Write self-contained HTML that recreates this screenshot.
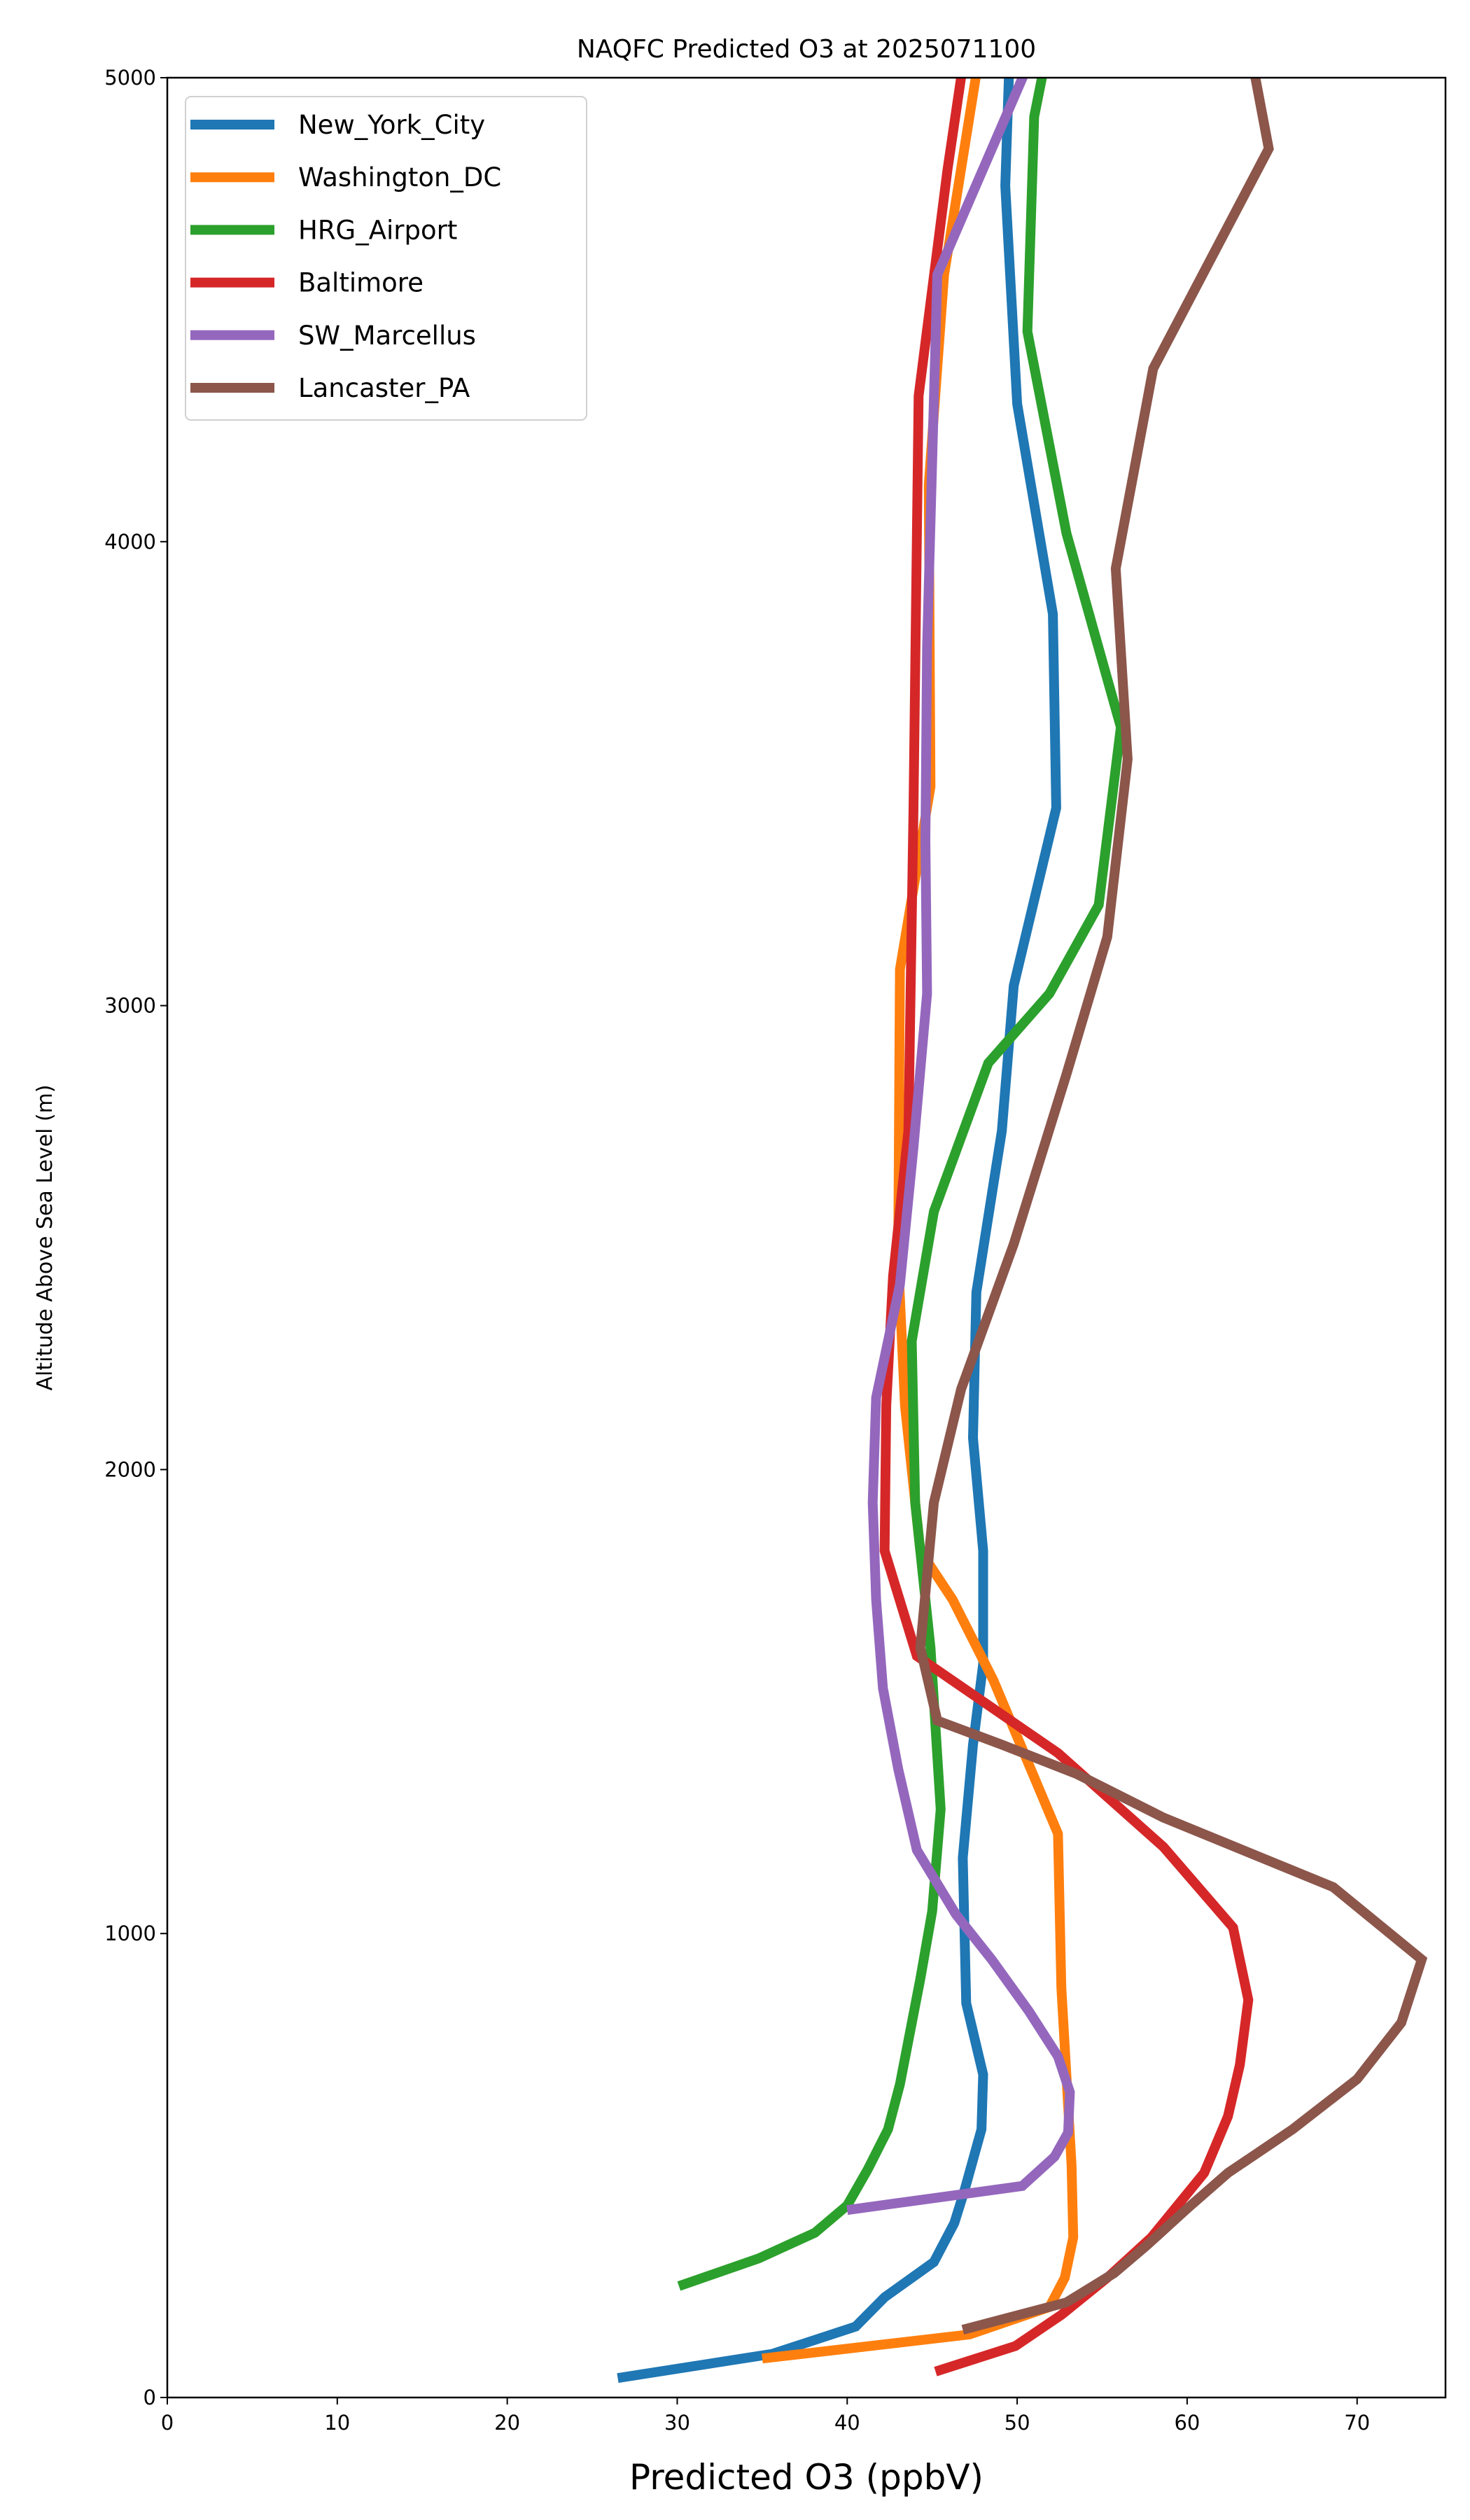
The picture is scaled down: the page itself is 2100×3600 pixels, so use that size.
<!DOCTYPE html>
<html><head><meta charset="utf-8"><style>
html,body{margin:0;padding:0;background:#fff;}
svg{display:block;font-family:"DejaVu Sans","Liberation Sans",sans-serif;}
</style></head><body>
<svg id="chart" width="2100" height="3600" viewBox="0 0 2100 3600" xmlns="http://www.w3.org/2000/svg">
<rect width="2100" height="3600" fill="#fff"/>
<defs><clipPath id="plotclip"><rect x="239" y="111" width="1826" height="3314"/></clipPath></defs>
<text x="1152" y="82" font-size="36" text-anchor="middle">NAQFC Predicted O3 at 2025071100</text>
<g id="xticks"></g>
<g id="yticks"></g>
<g id="series" clip-path="url(#plotclip)"></g>
<rect x="239" y="111" width="1826" height="3314" fill="none" stroke="#000" stroke-width="2.5"/>
<text x="1152" y="3556" font-size="50" text-anchor="middle">Predicted O3 (ppbV)</text>
<text x="0" y="0" font-size="30" text-anchor="middle" transform="translate(74,1768) rotate(-90)">Altitude Above Sea Level (m)</text>
<g id="legend"></g>
</svg>
<script>
const seriesNames = ["New_York_City","Washington_DC","HRG_Airport","Baltimore","SW_Marcellus","Lancaster_PA"];
const seriesColors = ["#1f77b4","#ff7f0e","#2ca02c","#d62728","#9467bd","#8c564b"];
const xTicks = [0,10,20,30,40,50,60,70];
const yTicks = [0,1000,2000,3000,4000,5000];
const nycO3 = [26.5,35.6,40.5,42.2,45.1,46.3,46.9,47.9,48.0,47.0,46.8,47.4,48.0,48.0,47.4,47.6,49.1,49.8,52.3,52.1,50.0,49.3,49.6];
const nycAlt = [42,94,153,216,292,376,446,578,696,850,1163,1407,1581,1825,2068,2382,2730,3043,3426,3844,4297,4767,5100];
const dcO3 = [35.0,47.2,51.9,52.8,53.3,53.2,52.6,52.4,48.6,46.2,44.3,43.4,43.0,43.1,44.9,44.8,45.7,48.0];
const dcAlt = [84,136,195,258,345,501,884,1215,1546,1720,1825,2138,2451,3078,3472,4123,4575,5100];
const hrgO3 = [30.1,34.8,38.1,40.0,41.2,42.4,43.1,44.3,45.0,45.5,44.9,44.0,43.8,45.1,48.3,51.9,54.8,56.1,52.9,50.6,51.0,52.0];
const hrgAlt = [240,300,355,414,491,578,675,902,1048,1268,1616,1929,2277,2556,2876,3026,3217,3600,4018,4453,4916,5100];
const balO3 = [45.2,49.9,52.6,55.3,57.9,61.0,62.4,63.1,63.6,62.7,58.6,52.4,44.1,42.2,42.3,42.7,43.6,43.9,44.2,45.9,47.1];
const balAlt = [56,111,178,258,345,484,606,717,857,1013,1187,1389,1598,1825,2138,2417,2730,3426,4314,4801,5100];
const swmO3 = [40.0,50.3,52.2,53.0,53.1,52.4,50.7,48.5,46.4,44.1,43.0,42.1,41.7,41.5,41.7,43.1,43.9,44.7,44.6,44.7,45.3,51.5];
const swmAlt = [404,456,519,571,658,735,832,944,1041,1180,1355,1529,1720,1929,2155,2399,2695,3026,3357,3774,4575,5100];
const lanO3 = [46.8,52.9,55.7,57.6,60.0,62.4,66.2,70.0,72.6,73.8,68.6,58.6,53.5,49.1,45.3,44.3,45.1,46.7,49.8,52.9,55.3,56.5,55.8,58.0,64.8,63.5];
const lanAlt = [146,205,268,327,407,484,578,686,808,944,1100,1250,1344,1407,1459,1616,1929,2173,2486,2852,3148,3531,3942,4373,4847,5100];

const allO3 = [nycO3,dcO3,hrgO3,balO3,swmO3,lanO3];
const allAlt = [nycAlt,dcAlt,hrgAlt,balAlt,swmAlt,lanAlt];
const NS = "http://www.w3.org/2000/svg";
const L=239,R=2065,T=111,B=3425, XMIN=0, XMAX=75.2, YMIN=0, YMAX=5000;
function xs(v){return L+(v-XMIN)/(XMAX-XMIN)*(R-L);}
function ys(v){return B-(v-YMIN)/(YMAX-YMIN)*(B-T);}
function mk(tag,attrs,parent){const e=document.createElementNS(NS,tag);for(const k in attrs)e.setAttribute(k,attrs[k]);parent.appendChild(e);return e;}

const xg=document.getElementById('xticks');
xTicks.forEach(t=>{
  const ln=mk('line',{x1:xs(t),x2:xs(t),y1:B,y2:B+10,stroke:'#000','stroke-width':2},xg);
  
  
  const tx=mk('text',{x:xs(t),y:B+46,'font-size':29,'text-anchor':'middle'},xg);
  tx.textContent=t;
  
  
});
const yg=document.getElementById('yticks');
yTicks.forEach(t=>{
  const ln=mk('line',{x1:L-10,x2:L,y1:ys(t),y2:ys(t),stroke:'#000','stroke-width':2},yg);
  
  
  const tx=mk('text',{x:L-16,y:ys(t)+10,'font-size':29,'text-anchor':'end'},yg);
  tx.textContent=t;
  
  
});
const sg=document.getElementById('series');
allO3.forEach((o3,i)=>{
  const alt=allAlt[i];
  const pts=o3.map((v,j)=>xs(v).toFixed(1)+','+ys(alt[j]).toFixed(1)).join(' ');
  const pl=mk('polyline',{points:pts,fill:'none',stroke:seriesColors[i],'stroke-width':14,'stroke-linejoin':'miter','stroke-linecap':'butt'},sg);
  
  
});
const lg=document.getElementById('legend');
const box=mk('rect',{x:265,y:138,width:573,height:462,rx:8,fill:'#fff','fill-opacity':0.8,stroke:'#d0d0d0','stroke-width':2},lg);


seriesNames.forEach((n,i)=>{
  const y=178+i*75.2;
  const g=mk('g',{},lg);
  
  
  mk('line',{x1:272,x2:392,y1:y,y2:y,stroke:seriesColors[i],'stroke-width':14},g);
  const tx=mk('text',{x:426,y:y+13,'font-size':37},g);
  tx.textContent=n;
});
</script>
</body></html>
